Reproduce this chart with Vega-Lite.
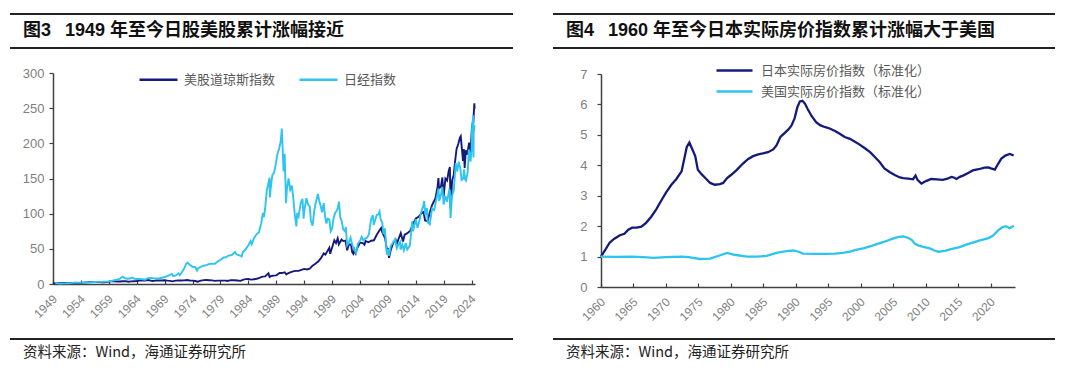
{
  "$schema": "https://vega.github.io/schema/vega-lite/v6.json",
  "padding": {"left": 9, "top": 13, "right": 0, "bottom": 0},
  "background": "white",
  "config": {
    "view": {"stroke": null},
    "axis": {"grid": false, "labelFont": "Liberation Sans", "labelFontSize": 12, "labelColor": "#808080", "domainColor": "#404040", "domainWidth": 1.5, "tickColor": "#404040", "tickWidth": 1.2, "title": null, "labelOverlap": false, "tickCount": 30}
  },
  "resolve": {"scale": {"color": "independent"}, "legend": {"color": "independent"}},
  "spacing": 38,
  "hconcat": [
    {
      "bounds": "flush",
      "spacing": 25,
      "vconcat": [
        {
          "width": 503, "height": 34,
          "data": {"values": [{"label": "图3\u2002 1949 年至今日股美股累计涨幅接近"}]},
          "layer": [
            {"mark": {"type": "rule", "color": "#222222", "strokeWidth": 1.8}, "encoding": {"y": {"datum": 0, "type": "quantitative", "scale": {"domain": [0, 1]}, "axis": null}}},
            {"mark": {"type": "rule", "color": "#222222", "strokeWidth": 1.8}, "encoding": {"y": {"datum": 1, "type": "quantitative"}}},
            {"mark": {"type": "text", "align": "left", "baseline": "middle", "dx": 13, "font": "Liberation Sans, Noto Sans CJK SC", "fontSize": 18, "fontWeight": "bold", "color": "#111111"},
             "encoding": {"x": {"datum": 0, "type": "quantitative", "scale": {"domain": [0, 1]}, "axis": null}, "y": {"datum": 0.5, "type": "quantitative"}, "text": {"field": "label"}}}
          ]
        },
        {
          "width": 503, "height": 211,
          "encoding": {
            "x": {"field": "t", "type": "quantitative", "scale": {"domain": [1949, 2024.6], "range": [43, 465], "nice": false, "zero": false},
                  "axis": {"values": [1949,1954,1959,1964,1969,1974,1979,1984,1989,1994,1999,2004,2009,2014,2019,2024], "tickCount": 30, "format": "d", "labelAngle": -45, "labelAlign": "right", "labelBaseline": "top", "tickSize": -4, "labelPadding": 13, "labelOffset": -2, "labelColor": "#7f7f7f", "labelOverlap": false}},
            "y": {"field": "v", "type": "quantitative", "scale": {"domain": [0, 300], "nice": false},
                  "axis": {"values": [0,50,100,150,200,250,300], "tickCount": 30, "offset": -43, "tickSize": 4, "labelPadding": 5, "labelFontSize": 13, "labelOverlap": false}}
          },
          "layer": [
            {
              "data": {"values": [
                {"t":1949.0,"v":1.00},{"t":1949.5,"v":0.95},{"t":1950.0,"v":1.13},{"t":1950.5,"v":1.19},{"t":1951.0,"v":1.36},{"t":1951.5,"v":1.44},{"t":1952.0,"v":1.53},{"t":1952.5,"v":1.55},{"t":1953.0,"v":1.64},{"t":1953.5,"v":1.53},{"t":1954.0,"v":1.61},{"t":1954.5,"v":1.92},{"t":1955.0,"v":2.29},{"t":1955.5,"v":2.60},{"t":1956.0,"v":2.74},{"t":1956.5,"v":2.82},{"t":1957.0,"v":2.80},{"t":1957.5,"v":2.88},{"t":1957.8,"v":2.37},{"t":1958.0,"v":2.51},{"t":1958.5,"v":2.71},{"t":1959.0,"v":3.31},{"t":1959.5,"v":3.67},{"t":1960.0,"v":3.73},{"t":1960.5,"v":3.50},{"t":1961.0,"v":3.50},{"t":1961.5,"v":3.95},{"t":1962.0,"v":4.10},{"t":1962.5,"v":3.22},{"t":1963.0,"v":3.67},{"t":1963.5,"v":3.98},{"t":1964.0,"v":4.32},{"t":1964.5,"v":4.75},{"t":1965.0,"v":4.92},{"t":1965.5,"v":4.92},{"t":1966.0,"v":5.56},{"t":1966.5,"v":4.80},{"t":1966.8,"v":4.24},{"t":1967.0,"v":4.46},{"t":1967.5,"v":4.92},{"t":1968.0,"v":5.08},{"t":1968.5,"v":5.08},{"t":1969.0,"v":5.34},{"t":1969.5,"v":4.80},{"t":1970.0,"v":4.52},{"t":1970.4,"v":3.79},{"t":1971.0,"v":4.75},{"t":1971.5,"v":5.03},{"t":1972.0,"v":5.03},{"t":1972.5,"v":5.20},{"t":1973.0,"v":5.76},{"t":1973.5,"v":5.03},{"t":1974.0,"v":4.80},{"t":1974.5,"v":4.29},{"t":1974.9,"v":3.33},{"t":1975.5,"v":4.80},{"t":1976.0,"v":5.48},{"t":1976.5,"v":5.59},{"t":1977.0,"v":5.37},{"t":1977.5,"v":5.08},{"t":1978.0,"v":4.41},{"t":1978.5,"v":4.80},{"t":1979.0,"v":4.75},{"t":1979.5,"v":4.75},{"t":1980.0,"v":4.86},{"t":1980.2,"v":4.29},{"t":1980.9,"v":5.48},{"t":1981.5,"v":5.37},{"t":1982.0,"v":4.92},{"t":1982.6,"v":4.46},{"t":1983.0,"v":5.93},{"t":1983.5,"v":6.89},{"t":1984.0,"v":7.06},{"t":1984.5,"v":6.21},{"t":1985.0,"v":6.84},{"t":1985.5,"v":7.51},{"t":1986.0,"v":8.76},{"t":1986.5,"v":10.45},{"t":1987.0,"v":10.90},{"t":1987.6,"v":15.25},{"t":1987.8,"v":9.89},{"t":1988.0,"v":11.02},{"t":1988.5,"v":11.98},{"t":1989.0,"v":12.26},{"t":1989.6,"v":15.54},{"t":1990.0,"v":15.54},{"t":1990.5,"v":16.67},{"t":1990.8,"v":13.56},{"t":1991.0,"v":14.86},{"t":1991.5,"v":16.67},{"t":1992.0,"v":17.91},{"t":1992.5,"v":18.64},{"t":1993.0,"v":18.64},{"t":1993.5,"v":20.06},{"t":1994.0,"v":21.47},{"t":1994.5,"v":20.62},{"t":1995.0,"v":21.69},{"t":1995.5,"v":25.99},{"t":1996.0,"v":28.81},{"t":1996.5,"v":31.92},{"t":1997.0,"v":36.72},{"t":1997.5,"v":43.50},{"t":1997.8,"v":41.81},{"t":1998.0,"v":44.63},{"t":1998.5,"v":51.41},{"t":1998.65,"v":42.94},{"t":1999.0,"v":51.98},{"t":1999.4,"v":62.15},{"t":1999.7,"v":58.19},{"t":2000.0,"v":64.97},{"t":2000.2,"v":56.50},{"t":2000.7,"v":63.28},{"t":2001.0,"v":61.02},{"t":2001.4,"v":61.58},{"t":2001.7,"v":48.02},{"t":2002.0,"v":56.50},{"t":2002.4,"v":55.93},{"t":2002.6,"v":45.20},{"t":2002.8,"v":42.94},{"t":2003.0,"v":48.59},{"t":2003.2,"v":44.07},{"t":2003.5,"v":50.85},{"t":2004.0,"v":58.76},{"t":2004.5,"v":58.19},{"t":2004.8,"v":55.93},{"t":2005.0,"v":61.02},{"t":2005.5,"v":59.32},{"t":2006.0,"v":61.58},{"t":2006.5,"v":62.15},{"t":2007.0,"v":70.06},{"t":2007.5,"v":76.27},{"t":2007.8,"v":79.66},{"t":2008.0,"v":73.45},{"t":2008.5,"v":64.97},{"t":2008.8,"v":49.72},{"t":2009.0,"v":49.72},{"t":2009.2,"v":37.29},{"t":2009.5,"v":48.02},{"t":2010.0,"v":59.32},{"t":2010.4,"v":62.15},{"t":2010.5,"v":55.37},{"t":2011.0,"v":66.10},{"t":2011.3,"v":72.32},{"t":2011.7,"v":60.45},{"t":2012.0,"v":70.06},{"t":2012.5,"v":72.32},{"t":2013.0,"v":75.71},{"t":2013.5,"v":85.31},{"t":2014.0,"v":93.22},{"t":2014.5,"v":95.48},{"t":2015.0,"v":100.56},{"t":2015.4,"v":102.26},{"t":2015.65,"v":90.40},{"t":2016.1,"v":89.27},{"t":2016.5,"v":101.69},{"t":2016.9,"v":111.86},{"t":2017.2,"v":116.95},{"t":2017.5,"v":121.47},{"t":2017.9,"v":138.42},{"t":2018.05,"v":150.5},{"t":2018.15,"v":135.59},{"t":2018.5,"v":138.42},{"t":2018.75,"v":151.5},{"t":2018.97,"v":124.29},{"t":2019.3,"v":149.72},{"t":2019.6,"v":146.89},{"t":2019.9,"v":161.02},{"t":2020.1,"v":166.5},{"t":2020.22,"v":107.34},{"t":2020.5,"v":146.89},{"t":2020.8,"v":155.37},{"t":2021.0,"v":172.32},{"t":2021.3,"v":192.0},{"t":2021.6,"v":199.0},{"t":2021.9,"v":208.0},{"t":2022.05,"v":210.0},{"t":2022.45,"v":175.14},{"t":2022.6,"v":192.0},{"t":2022.75,"v":165.0},{"t":2022.95,"v":190.0},{"t":2023.2,"v":184.0},{"t":2023.55,"v":201.0},{"t":2023.8,"v":187.0},{"t":2023.99,"v":214.0},{"t":2024.1,"v":227.0},{"t":2024.2,"v":219.0},{"t":2024.33,"v":234.0},{"t":2024.48,"v":257.0},{"t":2024.53,"v":249.0}
              ]},
              "mark": {"type": "line", "strokeWidth": 1.9},
              "encoding": {
                "color": {"datum": "美股道琼斯指数", "type": "nominal",
                          "scale": {"domain": ["美股道琼斯指数", "日经指数"], "range": ["#141a7c", "#2ec4f0"]},
                          "legend": {"orient": "none", "legendX": 128, "legendY": 45, "direction": "horizontal", "title": null, "symbolType": "stroke", "symbolSize": 1444, "symbolStrokeWidth": 2.5, "labelFont": "Noto Sans CJK SC", "labelFontSize": 13, "labelColor": "#595959", "columnPadding": 18, "labelOffset": 5, "labelLimit": 400}}
              }
            },
            {
              "data": {"values": [
                {"t":1949.4,"v":1.00},{"t":1949.7,"v":0.85},{"t":1950.0,"v":0.62},{"t":1950.5,"v":0.54},{"t":1951.0,"v":0.93},{"t":1951.5,"v":0.98},{"t":1952.0,"v":1.05},{"t":1952.5,"v":1.65},{"t":1953.0,"v":2.35},{"t":1953.2,"v":1.95},{"t":1953.5,"v":2.00},{"t":1954.0,"v":1.95},{"t":1954.5,"v":1.80},{"t":1955.0,"v":2.05},{"t":1955.5,"v":2.10},{"t":1956.0,"v":2.45},{"t":1956.5,"v":2.75},{"t":1957.0,"v":3.05},{"t":1957.5,"v":3.05},{"t":1958.0,"v":3.15},{"t":1958.5,"v":3.40},{"t":1959.0,"v":3.75},{"t":1959.5,"v":4.30},{"t":1960.0,"v":5.40},{"t":1960.5,"v":6.30},{"t":1961.0,"v":7.60},{"t":1961.5,"v":10.30},{"t":1961.9,"v":8.20},{"t":1962.4,"v":7.50},{"t":1962.9,"v":8.10},{"t":1963.2,"v":9.20},{"t":1963.6,"v":7.50},{"t":1964.0,"v":7.10},{"t":1964.5,"v":7.30},{"t":1965.0,"v":6.80},{"t":1965.5,"v":6.00},{"t":1966.0,"v":8.30},{"t":1966.5,"v":8.70},{"t":1967.0,"v":8.30},{"t":1967.5,"v":8.00},{"t":1968.0,"v":7.90},{"t":1968.5,"v":8.90},{"t":1969.0,"v":10.00},{"t":1969.5,"v":11.30},{"t":1970.0,"v":13.40},{"t":1970.3,"v":14.20},{"t":1970.5,"v":11.20},{"t":1971.0,"v":12.20},{"t":1971.5,"v":15.20},{"t":1971.7,"v":12.60},{"t":1972.0,"v":15.70},{"t":1972.5,"v":22.00},{"t":1972.9,"v":29.20},{"t":1973.1,"v":30.40},{"t":1973.5,"v":27.50},{"t":1974.0,"v":24.50},{"t":1974.5,"v":24.00},{"t":1974.8,"v":19.10},{"t":1975.0,"v":22.50},{"t":1975.5,"v":24.50},{"t":1976.0,"v":26.00},{"t":1976.5,"v":26.80},{"t":1977.0,"v":28.50},{"t":1977.5,"v":29.00},{"t":1978.0,"v":28.80},{"t":1978.5,"v":32.00},{"t":1979.0,"v":34.30},{"t":1979.5,"v":37.40},{"t":1980.0,"v":38.10},{"t":1980.5,"v":40.50},{"t":1981.0,"v":41.00},{"t":1981.6,"v":45.50},{"t":1981.9,"v":42.00},{"t":1982.5,"v":40.50},{"t":1982.8,"v":39.00},{"t":1983.0,"v":45.50},{"t":1983.5,"v":49.00},{"t":1984.0,"v":55.00},{"t":1984.4,"v":61.00},{"t":1984.6,"v":56.50},{"t":1985.0,"v":65.00},{"t":1985.5,"v":71.00},{"t":1985.9,"v":73.50},{"t":1986.3,"v":86.00},{"t":1986.6,"v":101.00},{"t":1986.8,"v":95.00},{"t":1987.0,"v":107.00},{"t":1987.3,"v":133.00},{"t":1987.5,"v":140.00},{"t":1987.8,"v":151.00},{"t":1987.85,"v":123.00},{"t":1988.0,"v":136.00},{"t":1988.3,"v":155.00},{"t":1988.6,"v":158.00},{"t":1988.9,"v":170.00},{"t":1989.2,"v":185.00},{"t":1989.5,"v":192.00},{"t":1989.8,"v":203.00},{"t":1989.99,"v":221.00},{"t":1990.15,"v":190.00},{"t":1990.3,"v":160.00},{"t":1990.5,"v":185.00},{"t":1990.75,"v":115.00},{"t":1990.9,"v":135.00},{"t":1991.2,"v":150.00},{"t":1991.5,"v":134.00},{"t":1991.8,"v":140.00},{"t":1992.0,"v":126.00},{"t":1992.3,"v":100.00},{"t":1992.6,"v":82.00},{"t":1992.75,"v":101.00},{"t":1993.0,"v":96.00},{"t":1993.4,"v":116.00},{"t":1993.7,"v":121.00},{"t":1993.9,"v":93.00},{"t":1994.0,"v":103.00},{"t":1994.4,"v":122.00},{"t":1994.7,"v":113.00},{"t":1995.0,"v":110.00},{"t":1995.2,"v":90.00},{"t":1995.5,"v":83.00},{"t":1995.8,"v":104.00},{"t":1996.0,"v":113.00},{"t":1996.45,"v":128.00},{"t":1996.7,"v":118.00},{"t":1996.99,"v":110.00},{"t":1997.2,"v":102.00},{"t":1997.5,"v":115.00},{"t":1997.75,"v":95.00},{"t":1997.99,"v":86.00},{"t":1998.2,"v":93.00},{"t":1998.5,"v":92.00},{"t":1998.75,"v":75.00},{"t":1999.0,"v":79.00},{"t":1999.3,"v":95.00},{"t":1999.5,"v":100.00},{"t":1999.99,"v":107.00},{"t":2000.25,"v":117.00},{"t":2000.45,"v":95.00},{"t":2000.7,"v":90.00},{"t":2000.99,"v":78.00},{"t":2001.3,"v":75.00},{"t":2001.45,"v":81.00},{"t":2001.7,"v":55.00},{"t":2001.99,"v":59.00},{"t":2002.3,"v":66.00},{"t":2002.6,"v":56.00},{"t":2002.99,"v":49.00},{"t":2003.3,"v":44.00},{"t":2003.6,"v":57.00},{"t":2003.99,"v":61.00},{"t":2004.3,"v":67.00},{"t":2004.6,"v":62.00},{"t":2004.99,"v":65.00},{"t":2005.3,"v":66.00},{"t":2005.6,"v":71.00},{"t":2005.99,"v":92.00},{"t":2006.3,"v":98.00},{"t":2006.45,"v":84.00},{"t":2006.99,"v":98.00},{"t":2007.3,"v":99.00},{"t":2007.5,"v":103.00},{"t":2007.7,"v":92.00},{"t":2007.99,"v":87.00},{"t":2008.2,"v":71.00},{"t":2008.45,"v":79.00},{"t":2008.8,"v":42.00},{"t":2008.99,"v":50.00},{"t":2009.2,"v":40.00},{"t":2009.5,"v":54.00},{"t":2009.99,"v":60.00},{"t":2010.3,"v":64.00},{"t":2010.6,"v":51.00},{"t":2010.99,"v":58.00},{"t":2011.2,"v":60.00},{"t":2011.25,"v":49.00},{"t":2011.6,"v":56.00},{"t":2011.85,"v":48.00},{"t":2012.2,"v":58.00},{"t":2012.45,"v":49.00},{"t":2012.9,"v":54.00},{"t":2012.99,"v":59.00},{"t":2013.35,"v":89.00},{"t":2013.5,"v":75.00},{"t":2013.99,"v":92.00},{"t":2014.3,"v":80.00},{"t":2014.7,"v":92.00},{"t":2014.9,"v":101.00},{"t":2015.3,"v":110.00},{"t":2015.5,"v":118.00},{"t":2015.7,"v":98.00},{"t":2015.99,"v":108.00},{"t":2016.1,"v":88.00},{"t":2016.5,"v":85.00},{"t":2016.9,"v":107.00},{"t":2017.3,"v":105.00},{"t":2017.5,"v":113.00},{"t":2017.9,"v":129.00},{"t":2018.05,"v":136.00},{"t":2018.2,"v":118.00},{"t":2018.5,"v":127.00},{"t":2018.75,"v":138.00},{"t":2018.98,"v":113.00},{"t":2019.3,"v":125.00},{"t":2019.6,"v":117.00},{"t":2019.99,"v":134.00},{"t":2020.1,"v":133.00},{"t":2020.22,"v":94.00},{"t":2020.5,"v":126.00},{"t":2020.8,"v":133.00},{"t":2020.99,"v":155.00},{"t":2021.15,"v":172.00},{"t":2021.4,"v":160.00},{"t":2021.7,"v":174.00},{"t":2021.99,"v":163.00},{"t":2022.2,"v":148.00},{"t":2022.5,"v":150.00},{"t":2022.65,"v":163.00},{"t":2022.8,"v":149.00},{"t":2022.99,"v":147.00},{"t":2023.3,"v":160.00},{"t":2023.5,"v":191.00},{"t":2023.8,"v":174.00},{"t":2023.99,"v":190.00},{"t":2024.1,"v":231.00},{"t":2024.15,"v":214.00},{"t":2024.28,"v":240.00},{"t":2024.33,"v":180.00},{"t":2024.37,"v":215.00},{"t":2024.45,"v":220.00},{"t":2024.52,"v":226.00}
              ]},
              "mark": {"type": "line", "strokeWidth": 1.9},
              "encoding": {
                "color": {"datum": "日经指数", "type": "nominal"}
              }
            }
          ]
        },
        {
          "width": 503, "height": 60,
          "data": {"values": [{"label": "资料来源：Wind，海通证券研究所"}]},
          "layer": [
            {"mark": {"type": "rule", "color": "#222222", "strokeWidth": 1.8}, "encoding": {"y": {"datum": 0.5, "type": "quantitative", "scale": {"domain": [0, 1]}, "axis": null}}},
            {"mark": {"type": "text", "align": "left", "baseline": "middle", "dx": 13, "font": "Noto Sans CJK SC", "fontSize": 14.5, "color": "#222222"},
             "encoding": {"x": {"datum": 0, "type": "quantitative", "scale": {"domain": [0, 1]}, "axis": null}, "y": {"datum": 0.267, "type": "quantitative"}, "text": {"field": "label"}}}
          ]
        }
      ]
    },
    {
      "bounds": "flush",
      "spacing": 26,
      "vconcat": [
        {
          "width": 502, "height": 34,
          "data": {"values": [{"label": "图4\u2002 1960 年至今日本实际房价指数累计涨幅大于美国"}]},
          "layer": [
            {"mark": {"type": "rule", "color": "#222222", "strokeWidth": 1.8}, "encoding": {"y": {"datum": 0, "type": "quantitative", "scale": {"domain": [0, 1]}, "axis": null}}},
            {"mark": {"type": "rule", "color": "#222222", "strokeWidth": 1.8}, "encoding": {"y": {"datum": 1, "type": "quantitative"}}},
            {"mark": {"type": "text", "align": "left", "baseline": "middle", "dx": 13, "font": "Liberation Sans, Noto Sans CJK SC", "fontSize": 18, "fontWeight": "bold", "color": "#111111"},
             "encoding": {"x": {"datum": 0, "type": "quantitative", "scale": {"domain": [0, 1]}, "axis": null}, "y": {"datum": 0.5, "type": "quantitative"}, "text": {"field": "label"}}}
          ]
        },
        {
          "width": 502, "height": 213,
          "encoding": {
            "x": {"field": "t", "type": "quantitative", "scale": {"domain": [1960, 2023.7], "range": [48, 462], "nice": false, "zero": false},
                  "axis": {"values": [1960,1965,1970,1975,1980,1985,1990,1995,2000,2005,2010,2015,2020], "tickCount": 30, "format": "d", "labelAngle": -45, "labelAlign": "right", "labelBaseline": "top", "tickSize": -4, "labelPadding": 13, "labelOffset": -2, "labelColor": "#7f7f7f", "labelOverlap": false}},
            "y": {"field": "v", "type": "quantitative", "scale": {"domain": [0, 7], "nice": false},
                  "axis": {"values": [0,1,2,3,4,5,6,7], "tickCount": 30, "format": "d", "offset": -48, "tickSize": 4, "labelPadding": 10, "labelFontSize": 13, "labelOverlap": false}}
          },
          "layer": [
            {
              "data": {"values": [
                {"t":1960.0,"v":1.00},{"t":1960.6,"v":1.20},{"t":1961.3,"v":1.45},{"t":1962.0,"v":1.58},{"t":1962.9,"v":1.70},{"t":1963.6,"v":1.75},{"t":1964.2,"v":1.88},{"t":1964.8,"v":1.95},{"t":1965.5,"v":1.95},{"t":1966.2,"v":1.98},{"t":1966.9,"v":2.10},{"t":1967.7,"v":2.30},{"t":1968.5,"v":2.55},{"t":1969.3,"v":2.85},{"t":1970.0,"v":3.10},{"t":1970.8,"v":3.35},{"t":1971.6,"v":3.55},{"t":1972.4,"v":3.80},{"t":1972.8,"v":4.20},{"t":1973.2,"v":4.60},{"t":1973.6,"v":4.75},{"t":1974.0,"v":4.55},{"t":1974.5,"v":4.30},{"t":1974.9,"v":3.85},{"t":1975.5,"v":3.70},{"t":1976.2,"v":3.55},{"t":1976.8,"v":3.42},{"t":1977.5,"v":3.36},{"t":1978.3,"v":3.38},{"t":1978.8,"v":3.42},{"t":1979.4,"v":3.58},{"t":1980.0,"v":3.68},{"t":1980.9,"v":3.85},{"t":1981.8,"v":4.05},{"t":1982.6,"v":4.20},{"t":1983.4,"v":4.30},{"t":1984.2,"v":4.36},{"t":1984.9,"v":4.39},{"t":1985.7,"v":4.43},{"t":1986.5,"v":4.52},{"t":1987.0,"v":4.65},{"t":1987.6,"v":4.93},{"t":1988.2,"v":5.05},{"t":1988.8,"v":5.17},{"t":1989.3,"v":5.30},{"t":1989.8,"v":5.55},{"t":1990.2,"v":5.90},{"t":1990.6,"v":6.10},{"t":1991.0,"v":6.12},{"t":1991.4,"v":6.02},{"t":1991.8,"v":5.85},{"t":1992.4,"v":5.62},{"t":1993.1,"v":5.42},{"t":1993.7,"v":5.32},{"t":1994.4,"v":5.26},{"t":1995.2,"v":5.21},{"t":1996.0,"v":5.13},{"t":1996.8,"v":5.03},{"t":1997.5,"v":4.93},{"t":1998.3,"v":4.87},{"t":1999.0,"v":4.78},{"t":1999.8,"v":4.68},{"t":2000.6,"v":4.56},{"t":2001.4,"v":4.43},{"t":2002.1,"v":4.28},{"t":2002.9,"v":4.10},{"t":2003.6,"v":3.90},{"t":2004.4,"v":3.78},{"t":2005.2,"v":3.68},{"t":2006.0,"v":3.60},{"t":2006.5,"v":3.58},{"t":2007.3,"v":3.56},{"t":2008.0,"v":3.54},{"t":2008.4,"v":3.66},{"t":2008.7,"v":3.52},{"t":2009.3,"v":3.40},{"t":2010.0,"v":3.48},{"t":2010.8,"v":3.55},{"t":2011.7,"v":3.54},{"t":2012.6,"v":3.52},{"t":2013.3,"v":3.56},{"t":2013.9,"v":3.62},{"t":2014.3,"v":3.60},{"t":2014.7,"v":3.55},{"t":2015.2,"v":3.62},{"t":2015.7,"v":3.66},{"t":2016.5,"v":3.75},{"t":2017.2,"v":3.83},{"t":2018.1,"v":3.87},{"t":2019.0,"v":3.92},{"t":2019.6,"v":3.93},{"t":2020.0,"v":3.90},{"t":2020.6,"v":3.86},{"t":2021.1,"v":4.05},{"t":2021.6,"v":4.22},{"t":2022.2,"v":4.32},{"t":2022.9,"v":4.37},{"t":2023.5,"v":4.32}
              ]},
              "mark": {"type": "line", "strokeWidth": 2.3},
              "encoding": {
                "color": {"datum": "日本实际房价指数（标准化）", "type": "nominal",
                          "scale": {"domain": ["日本实际房价指数（标准化）", "美国实际房价指数（标准化）"], "range": ["#141a7c", "#2ec4f0"]},
                          "legend": {"orient": "none", "legendX": 162, "legendY": 49, "direction": "vertical", "title": null, "symbolType": "stroke", "symbolSize": 1296, "symbolStrokeWidth": 2.5, "labelFont": "Noto Sans CJK SC", "labelFontSize": 13, "labelColor": "#595959", "clipHeight": 15, "rowPadding": 6, "labelOffset": 7, "labelLimit": 400}}
              }
            },
            {
              "data": {"values": [
                {"t":1960.0,"v":1.00},{"t":1962.0,"v":0.99},{"t":1964.7,"v":1.00},{"t":1966.5,"v":0.98},{"t":1968.1,"v":0.96},{"t":1970.0,"v":0.98},{"t":1972.4,"v":1.00},{"t":1973.5,"v":0.98},{"t":1975.2,"v":0.92},{"t":1976.8,"v":0.93},{"t":1978.0,"v":1.02},{"t":1979.4,"v":1.12},{"t":1980.5,"v":1.06},{"t":1982.5,"v":1.00},{"t":1984.0,"v":1.00},{"t":1985.5,"v":1.02},{"t":1987.0,"v":1.12},{"t":1988.5,"v":1.18},{"t":1989.6,"v":1.20},{"t":1990.5,"v":1.15},{"t":1991.1,"v":1.10},{"t":1993.0,"v":1.09},{"t":1994.7,"v":1.09},{"t":1996.0,"v":1.10},{"t":1997.2,"v":1.12},{"t":1998.3,"v":1.16},{"t":1999.2,"v":1.22},{"t":2000.5,"v":1.28},{"t":2001.5,"v":1.34},{"t":2002.3,"v":1.40},{"t":2003.5,"v":1.48},{"t":2004.9,"v":1.59},{"t":2005.8,"v":1.65},{"t":2006.5,"v":1.66},{"t":2007.2,"v":1.62},{"t":2007.8,"v":1.55},{"t":2008.3,"v":1.42},{"t":2008.8,"v":1.37},{"t":2009.6,"v":1.32},{"t":2010.6,"v":1.27},{"t":2011.3,"v":1.20},{"t":2011.9,"v":1.16},{"t":2012.9,"v":1.19},{"t":2014.0,"v":1.25},{"t":2015.2,"v":1.31},{"t":2016.2,"v":1.39},{"t":2017.2,"v":1.46},{"t":2018.3,"v":1.53},{"t":2019.5,"v":1.60},{"t":2020.3,"v":1.68},{"t":2021.1,"v":1.86},{"t":2021.8,"v":1.97},{"t":2022.3,"v":2.00},{"t":2022.9,"v":1.93},{"t":2023.5,"v":2.01}
              ]},
              "mark": {"type": "line", "strokeWidth": 2.3},
              "encoding": {
                "color": {"datum": "美国实际房价指数（标准化）", "type": "nominal"}
              }
            }
          ]
        },
        {
          "width": 502, "height": 60,
          "data": {"values": [{"label": "资料来源：Wind，海通证券研究所"}]},
          "layer": [
            {"mark": {"type": "rule", "color": "#222222", "strokeWidth": 1.8}, "encoding": {"y": {"datum": 0.567, "type": "quantitative", "scale": {"domain": [0, 1]}, "axis": null}}},
            {"mark": {"type": "text", "align": "left", "baseline": "middle", "dx": 13, "font": "Noto Sans CJK SC", "fontSize": 14.5, "color": "#222222"},
             "encoding": {"x": {"datum": 0, "type": "quantitative", "scale": {"domain": [0, 1]}, "axis": null}, "y": {"datum": 0.333, "type": "quantitative"}, "text": {"field": "label"}}}
          ]
        }
      ]
    }
  ]
}
